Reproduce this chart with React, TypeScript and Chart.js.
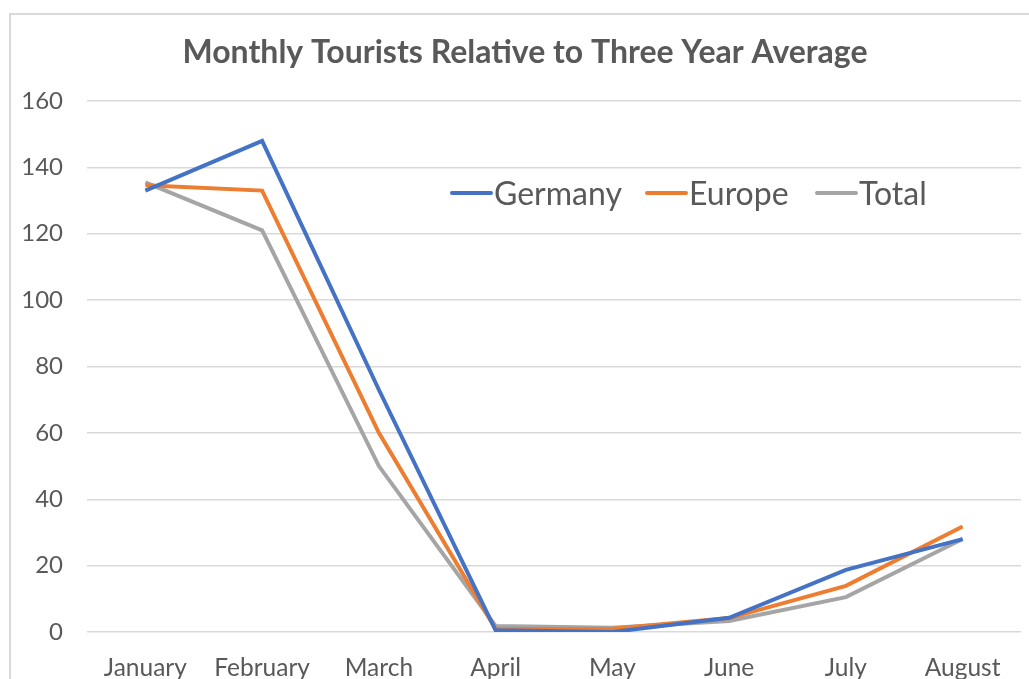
import React, { useEffect, useRef } from "react";
import { Chart, registerables } from "chart.js";
Chart.register(...registerables);

const months = ["January", "February", "March", "April", "May", "June", "July", "August"];
const germany = [133, 148, 73, 0.5, 0, 4.3, 18.7, 28];
const europe = [134.6, 133, 60, 0.9, 1, 4.2, 13.9, 31.8];
const total = [135.5, 121, 50, 1.8, 1.3, 3.3, 10.5, 28];
const seriesNames = ["Germany", "Europe", "Total"];
const seriesColors = ["#4472C4", "#ED7D31", "#A5A5A5"];
const chartTitle = "Monthly Tourists Relative to Three Year Average";

const FONT = "Lato, 'Open Sans', sans-serif";
const TEXT = "#595959";

const CW = 1026;
const CH = 700;

const titlePlugin = {
  id: "customTitle",
  afterDraw(chart: any) {
    const ctx = chart.ctx;
    ctx.save();
    ctx.font = `bold 32px ${FONT}`;
    ctx.fillStyle = TEXT;
    ctx.textAlign = "center";
    ctx.textBaseline = "middle";
    ctx.fillText(chartTitle, 514, 37.5);
    ctx.restore();
  },
};

const legendPlugin = {
  id: "customLegend",
  afterDraw(chart: any) {
    const ctx = chart.ctx;
    const ds = chart.data.datasets;
    const xs = [441, 636, 806];
    const y = 178;
    ctx.save();
    ctx.font = `32px ${FONT}`;
    ctx.textBaseline = "middle";
    ds.forEach((d: any, i: number) => {
      const x = xs[i];
      ctx.strokeStyle = d.borderColor;
      ctx.lineWidth = 4;
      ctx.lineCap = "round";
      ctx.beginPath();
      ctx.moveTo(x, y);
      ctx.lineTo(x + 39, y);
      ctx.stroke();
      ctx.fillStyle = TEXT;
      ctx.fillText(d.label, x + 42, y + 2);
    });
    ctx.restore();
  },
};

export default function App() {
  const ref = useRef<HTMLCanvasElement | null>(null);
  useEffect(() => {
    if (!ref.current) return;
    const data = [germany, europe, total];
    const chart = new Chart(ref.current, {
      type: "line",
      data: {
        labels: months,
        datasets: data.map((d, i) => ({
          label: seriesNames[i],
          data: d,
          borderColor: seriesColors[i],
          backgroundColor: seriesColors[i],
          borderWidth: 4,
          pointRadius: 0,
          tension: 0,
        })),
      },
      options: {
        responsive: false,
        animation: false,
        devicePixelRatio: 1,
        layout: { padding: { left: 0, right: 16, top: 86, bottom: 0 } },
        plugins: {
          legend: { display: false },
          tooltip: { enabled: false },
          title: { display: false },
        },
        scales: {
          x: {
            offset: true,
            grid: { display: false, drawTicks: false },
            border: { display: false },
            ticks: {
              color: TEXT,
              font: { family: FONT, size: 24.5 },
              padding: 21,
              maxRotation: 0,
            },
            afterFit: (s: any) => {
              s.height = 83;
            },
          },
          y: {
            min: 0,
            max: 160,
            grid: { color: "#D9D9D9", lineWidth: 1.5, drawTicks: false },
            border: { display: false },
            ticks: {
              stepSize: 20,
              color: TEXT,
              font: { family: FONT, size: 24 },
              padding: 24,
            },
            afterFit: (s: any) => {
              s.width = 76;
            },
          },
        },
      },
      plugins: [titlePlugin, legendPlugin],
    });
    return () => chart.destroy();
  }, []);

  return (
    <div
      style={{
        position: "fixed",
        left: 0,
        top: 0,
        width: 1029,
        height: 679,
        overflow: "hidden",
        background: "#fff",
      }}
    >
      <div
        style={{
          position: "absolute",
          left: 9,
          top: 13,
          width: CW + 4,
          height: CH + 4,
          border: "2px solid #D9D9D9",
          boxSizing: "border-box",
          background: "#fff",
        }}
      >
        <canvas ref={ref} width={CW} height={CH} style={{ width: CW, height: CH, display: "block" }} />
      </div>
    </div>
  );
}
